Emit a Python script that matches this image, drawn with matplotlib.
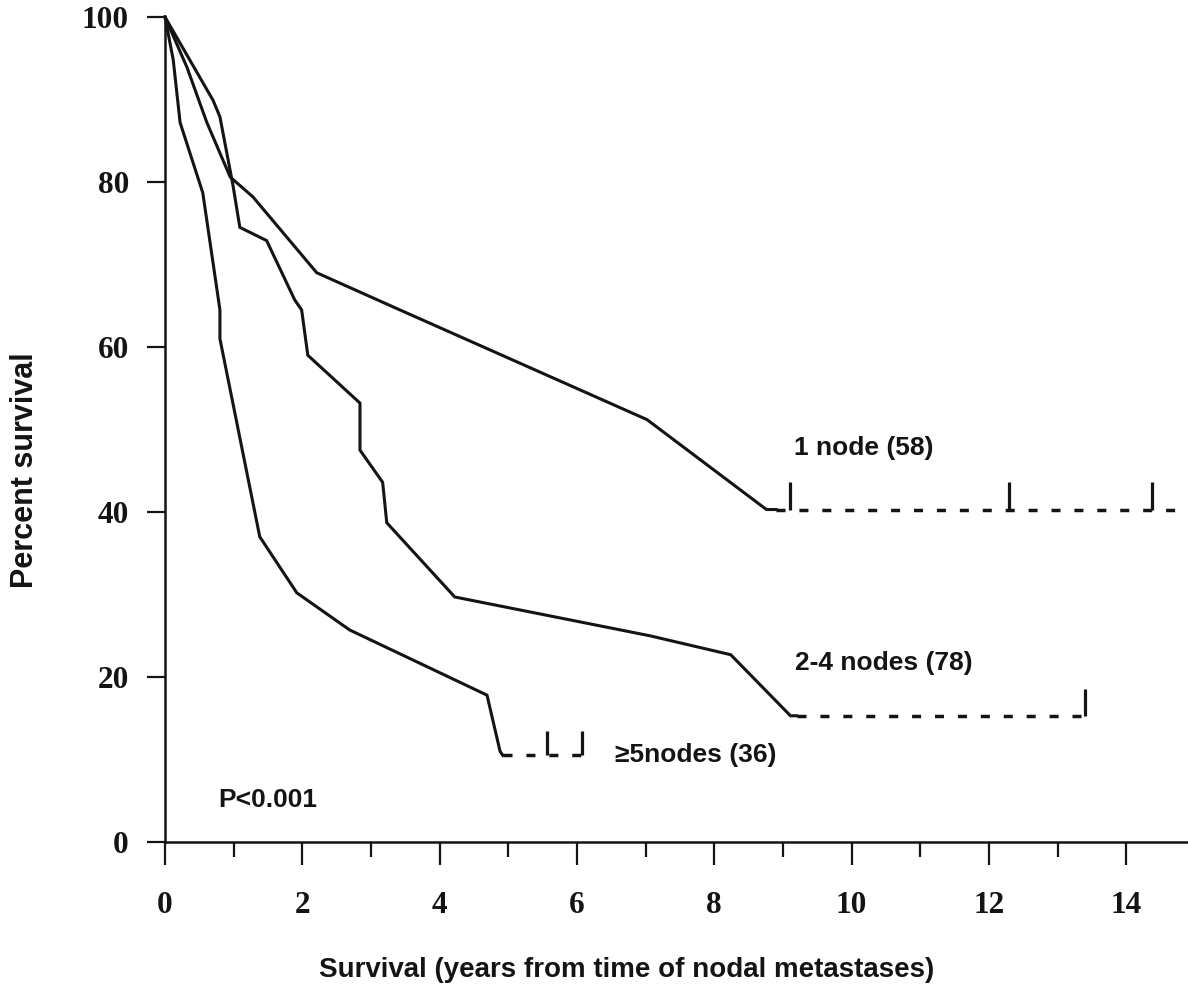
import matplotlib
matplotlib.use("Agg")
import matplotlib.pyplot as plt
from matplotlib.ticker import MultipleLocator

# survival curves (years, percent)
one_x = [0, 0.32, 0.61, 0.95, 1.28, 2.21, 3.42, 7.02, 8.76, 8.90]
one_y = [100, 93.9, 87.2, 80.6, 78.2, 69.0, 64.5, 51.2, 40.3, 40.3]
one_plateau_x = [8.90, 14.9]
one_censor = [9.11, 12.29, 14.37]

two_x = [0, 0.70, 0.80, 0.99, 1.09, 1.48, 1.89, 1.99, 2.08, 2.84, 2.84,
         3.17, 3.23, 4.22, 7.06, 8.24, 9.11, 9.20]
two_y = [100, 89.9, 87.9, 79.6, 74.5, 72.9, 65.7, 64.5, 59.0, 53.2, 47.5,
         43.6, 38.7, 29.7, 25.0, 22.7, 15.3, 15.3]
two_plateau_x = [9.20, 13.40]
two_censor = [13.40]

five_x = [0, 0.12, 0.22, 0.55, 0.80, 0.80, 1.38, 1.92, 2.69, 4.69, 4.88, 4.92]
five_y = [100, 94.8, 87.2, 78.7, 64.5, 61.0, 37.0, 30.2, 25.7, 17.8, 11.0, 10.5]
five_plateau_x = [4.92, 6.07]
five_censor = [5.56, 6.07]

labels = ["1 node (58)", "2-4 nodes (78)", "\u22655nodes (36)"]

serif = "Liberation Serif"
sans = "Liberation Sans"
ink = "#141414"

fig = plt.figure(figsize=(11.88, 9.89), dpi=100)
ax = fig.add_axes([165 / 1188, 147 / 989, 1 - 165 / 1188, (842 - 17) / 989])
ax.set_xlim(0, 14.9)
ax.set_ylim(0, 100)

lw = 2.2
curves = [
    (one_x, one_y, one_plateau_x, one_censor, 3.3),
    (two_x, two_y, two_plateau_x, two_censor, 3.2),
    (five_x, five_y, five_plateau_x, five_censor, 2.9),
]
for xs, ys, px, cx, h in curves:
    level = ys[-1]
    ax.plot(xs, ys, color=ink, lw=lw, solid_joinstyle="miter", clip_on=False)
    ax.plot(px, [level] * len(px), color=ink, lw=2.5, dashes=(2.6, 4.0),
            clip_on=False)
    ax.vlines(cx, level, [level + h] * len(cx), color=ink, lw=2.3,
              clip_on=False)

text_kw = dict(family=sans, fontsize=19, fontweight="bold", color=ink)
ax.text(9.16, 47.8, labels[0], va="center", ha="left", **text_kw)
ax.text(9.18, 21.7, labels[1], va="center", ha="left", **text_kw)
ax.text(6.55, 10.6, labels[2], va="center", ha="left",
        family=["Liberation Sans", "DejaVu Sans"], fontsize=19,
        fontweight="bold", color=ink)
ax.text(0.77, 5.1, "P<0.001", va="center", ha="left", **text_kw)

for side in ["top", "right"]:
    ax.spines[side].set_visible(False)
for side in ["left", "bottom"]:
    ax.spines[side].set_linewidth(1.8)
    ax.spines[side].set_color(ink)

ax.xaxis.set_major_locator(MultipleLocator(2))
ax.xaxis.set_minor_locator(MultipleLocator(1))
ax.yaxis.set_major_locator(MultipleLocator(20))
ax.tick_params(axis="x", which="major", direction="out", length=16.5,
               width=1.6, pad=19, colors=ink)
ax.tick_params(axis="x", which="minor", direction="out", length=11,
               width=1.6, colors=ink)
ax.tick_params(axis="y", which="major", direction="out", length=13,
               width=1.6, pad=13, colors=ink)
for lab in ax.get_xticklabels() + ax.get_yticklabels():
    lab.set_family(serif)
    lab.set_fontweight("bold")
    lab.set_fontsize(22.5)

fig.text(25 / 1188, 1 - 470 / 989, "Percent survival", rotation=90,
         ha="center", va="center", family=sans, fontsize=22,
         fontweight="bold", color=ink)
fig.text(627 / 1188, 1 - 970 / 989,
         "Survival (years from time of nodal metastases)",
         ha="center", va="center", family=sans, fontsize=20,
         fontweight="bold", color=ink)

fig.savefig("out.png", dpi=100)
